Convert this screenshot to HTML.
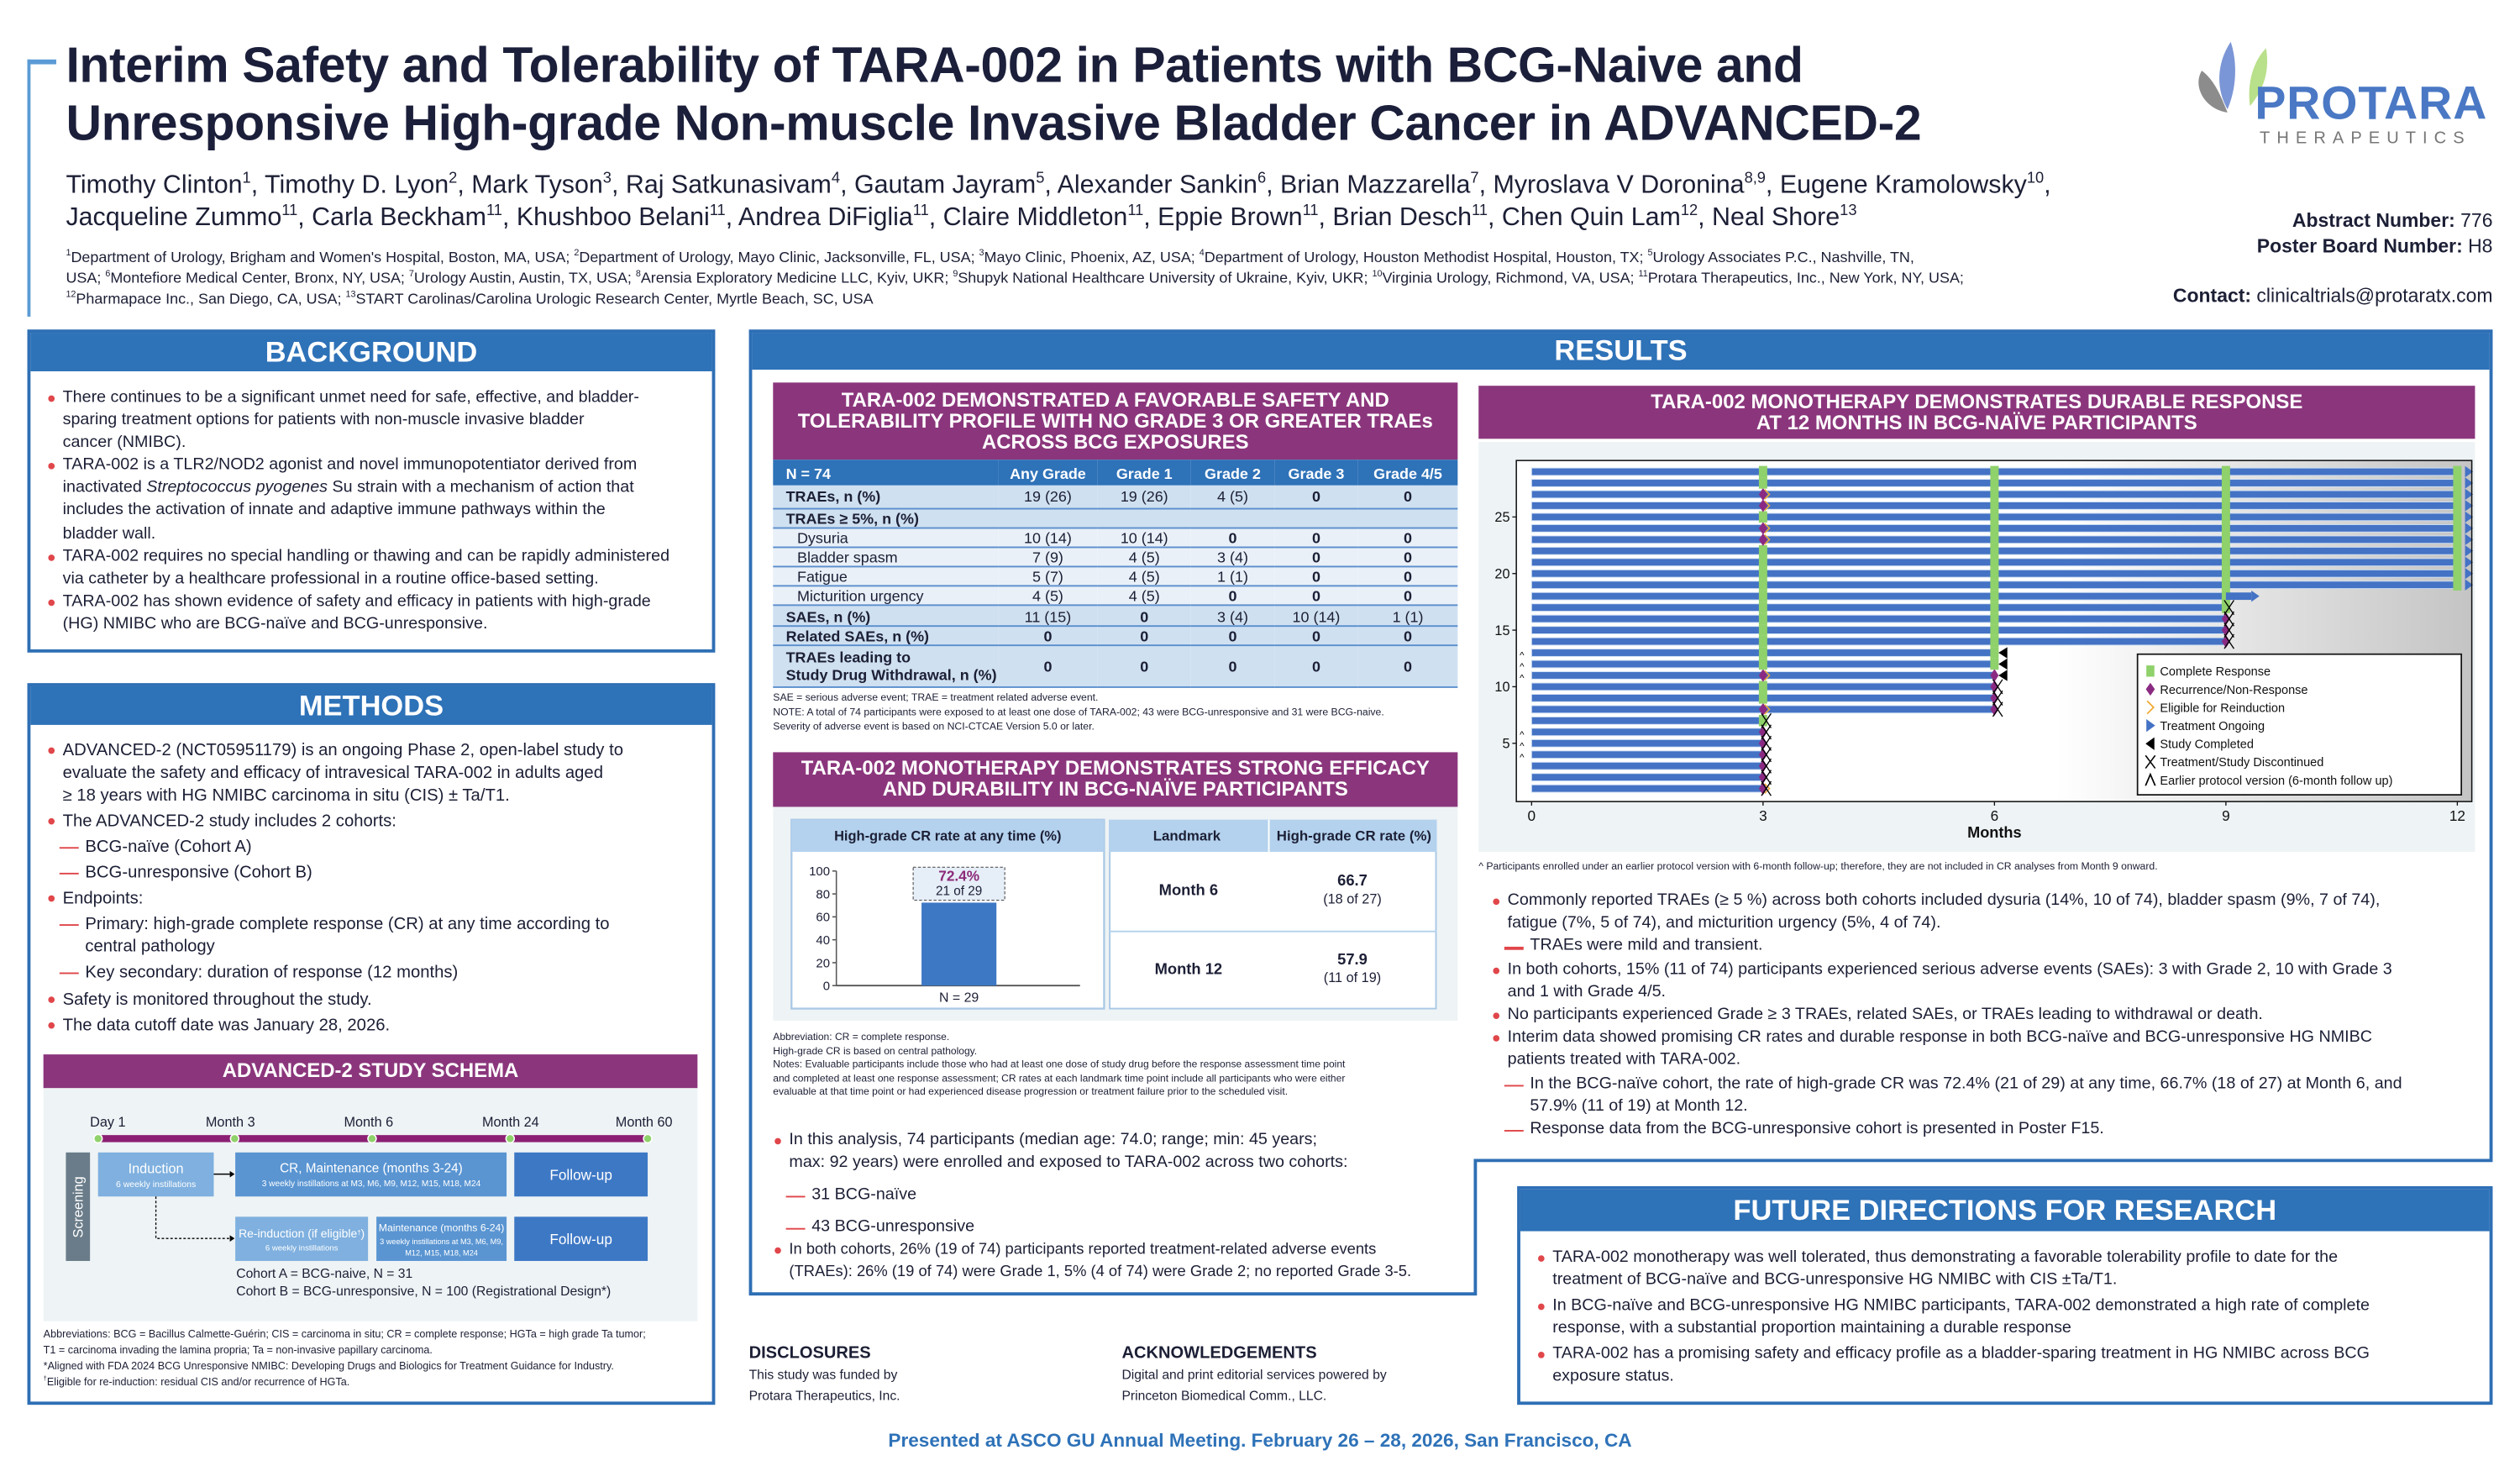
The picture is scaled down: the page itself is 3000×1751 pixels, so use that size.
<!DOCTYPE html>
<html><head><meta charset="utf-8">
<style>
html,body{margin:0;padding:0;width:3000px;height:1750px;overflow:hidden;background:#fff}
#poster{position:absolute;left:0;top:0;width:1568px;height:915px;transform:scale(1.91327);transform-origin:0 0;font-family:"Liberation Sans",sans-serif;color:#1c1f35}
.a{position:absolute;white-space:nowrap}
.panel{position:absolute;border:2px solid #2e6fb5;box-sizing:border-box;background:#fff}
.hdr{position:absolute;background:#2e72b8;color:#fff;font-weight:bold;text-align:center;font-size:18px;line-height:24px}
.ph{position:absolute;background:#8b367c;color:#fff;font-weight:bold;text-align:center;font-size:12.5px;line-height:13px;display:flex;align-items:center;justify-content:center}
.txt{position:absolute;font-size:10px;line-height:14px;white-space:nowrap}
.b{position:relative;padding-left:10px}
.b:before{content:"";position:absolute;left:1px;top:5px;width:4px;height:4px;border-radius:50%;background:#e0464a}
.d{position:relative;padding-left:24px}
.d:before{content:"";position:absolute;left:8px;top:7px;width:12px;height:1.3px;background:#e0464a}
sup{font-size:60%;line-height:0}
table{border-collapse:collapse}
td{padding:0;line-height:11px}
</style></head><body>
<div id="poster">

<!-- header -->
<div class="a" style="left:17px;top:37px;width:2px;height:160px;background:#5b9bd5"></div>
<div class="a" style="left:17px;top:37px;width:18px;height:3px;background:#5b9bd5"></div>
<div class="a" style="left:41px;top:23px;font-size:30.8px;font-weight:bold;line-height:36px;letter-spacing:-0.2px;color:#1b1f3a">Interim Safety and Tolerability of TARA-002 in Patients with BCG-Naive and<br>Unresponsive High-grade Non-muscle Invasive Bladder Cancer in ADVANCED-2</div>
<div class="a" style="left:41px;top:106px;font-size:15.9px;line-height:20px">Timothy Clinton<sup>1</sup>, Timothy D. Lyon<sup>2</sup>, Mark Tyson<sup>3</sup>, Raj Satkunasivam<sup>4</sup>, Gautam Jayram<sup>5</sup>, Alexander Sankin<sup>6</sup>, Brian Mazzarella<sup>7</sup>, Myroslava V Doronina<sup>8,9</sup>, Eugene Kramolowsky<sup>10</sup>,<br>Jacqueline Zummo<sup>11</sup>, Carla Beckham<sup>11</sup>, Khushboo Belani<sup>11</sup>, Andrea DiFiglia<sup>11</sup>, Claire Middleton<sup>11</sup>, Eppie Brown<sup>11</sup>, Brian Desch<sup>11</sup>, Chen Quin Lam<sup>12</sup>, Neal Shore<sup>13</sup></div>
<div class="a" style="left:41px;top:154px;font-size:9.4px;line-height:12.8px"><sup>1</sup>Department of Urology, Brigham and Women's Hospital, Boston, MA, USA; <sup>2</sup>Department of Urology, Mayo Clinic, Jacksonville, FL, USA; <sup>3</sup>Mayo Clinic, Phoenix, AZ, USA; <sup>4</sup>Department of Urology, Houston Methodist Hospital, Houston, TX; <sup>5</sup>Urology Associates P.C., Nashville, TN,<br>USA; <sup>6</sup>Montefiore Medical Center, Bronx, NY, USA; <sup>7</sup>Urology Austin, Austin, TX, USA; <sup>8</sup>Arensia Exploratory Medicine LLC, Kyiv, UKR; <sup>9</sup>Shupyk National Healthcare University of Ukraine, Kyiv, UKR; <sup>10</sup>Virginia Urology, Richmond, VA, USA; <sup>11</sup>Protara Therapeutics, Inc., New York, NY, USA;<br><sup>12</sup>Pharmapace Inc., San Diego, CA, USA; <sup>13</sup>START Carolinas/Carolina Urologic Research Center, Myrtle Beach, SC, USA</div>

<svg class="a" style="left:1362px;top:24px" width="60" height="50" viewBox="0 0 60 50">
<path d="M26 2 C18 14 16 30 24 44 C30 30 30 14 26 2Z" fill="#7b96d6"/>
<path d="M48 6 C40 14 36 28 38 42 C48 30 50 18 48 6Z" fill="#b9e08a"/>
<path d="M8 20 C2 30 10 44 24 46 C20 36 16 26 8 20Z" fill="#8c8c8c"/>
</svg>
<div class="a" style="left:1403px;top:49px;font-size:29px;font-weight:bold;color:#4a78c4;letter-spacing:0.5px">PROTARA</div>
<div class="a" style="left:1406px;top:80px;font-size:10.5px;color:#777;letter-spacing:4.2px">THERAPEUTICS</div>
<div class="a" style="right:17px;top:129px;font-size:12px;line-height:16px;text-align:right"><b>Abstract Number:</b> 776<br><b>Poster Board Number:</b> H8</div>
<div class="a" style="right:17px;top:177px;font-size:12px"><b>Contact:</b> clinicaltrials@protaratx.com</div>

<!-- BACKGROUND -->
<div class="panel" style="left:17px;top:205px;width:428px;height:201px"></div>
<div class="hdr" style="left:19px;top:207px;width:424px">BACKGROUND</div>
<div class="txt" style="left:29px;top:241px;font-size:10.3px;line-height:14.1px">
<div class="b">There continues to be a significant unmet need for safe, effective, and bladder-<br>sparing treatment options for patients with non-muscle invasive bladder<br>cancer (NMIBC).</div>
<div class="b">TARA-002 is a TLR2/NOD2 agonist and novel immunopotentiator derived from<br>inactivated <i>Streptococcus pyogenes</i> Su strain with a mechanism of action that<br>includes the activation of innate and adaptive immune pathways within the<br>bladder wall.</div>
<div class="b">TARA-002 requires no special handling or thawing and can be rapidly administered<br>via catheter by a healthcare professional in a routine office-based setting.</div>
<div class="b">TARA-002 has shown evidence of safety and efficacy in patients with high-grade<br>(HG) NMIBC who are BCG-naïve and BCG-unresponsive.</div>
</div>

<!-- METHODS -->
<div class="panel" style="left:17px;top:425px;width:428px;height:449px"></div>
<div class="hdr" style="left:19px;top:427px;width:424px">METHODS</div>
<div class="txt" style="left:29px;top:460px;font-size:10.6px;line-height:14px">
<div class="b">ADVANCED-2 (NCT05951179) is an ongoing Phase 2, open-label study to<br>evaluate the safety and efficacy of intravesical TARA-002 in adults aged<br>≥ 18 years with HG NMIBC carcinoma in situ (CIS) ± Ta/T1.</div>
<div class="b" style="margin-top:2px">The ADVANCED-2 study includes 2 cohorts:</div>
<div class="d" style="margin-top:2px">BCG-naïve (Cohort A)</div>
<div class="d" style="margin-top:2px">BCG-unresponsive (Cohort B)</div>
<div class="b" style="margin-top:2px">Endpoints:</div>
<div class="d" style="margin-top:2px">Primary: high-grade complete response (CR) at any time according to<br>central pathology</div>
<div class="d" style="margin-top:2px">Key secondary: duration of response (12 months)</div>
<div class="b" style="margin-top:3px">Safety is monitored throughout the study.</div>
<div class="b" style="margin-top:2px">The data cutoff date was January 28, 2026.</div>
</div>

<!-- schema -->
<div class="ph" style="left:27px;top:656px;width:407px;height:21px;font-size:12.5px">ADVANCED-2 STUDY SCHEMA</div>
<div class="a" style="left:27px;top:677px;width:407px;height:145px;background:#eef3f5"></div>
<svg class="a" style="left:0;top:0;overflow:visible" width="445" height="830">
<g font-family="Liberation Sans" font-size="8.5" fill="#1c1f35">
<text x="56" y="701">Day 1</text><text x="128" y="701">Month 3</text><text x="214" y="701">Month 6</text><text x="300" y="701">Month 24</text><text x="383" y="701">Month 60</text>
</g>
<rect x="61" y="706.2" width="342" height="4.4" fill="#8b1f73"/>
<g fill="#8fd16a" stroke="#fff" stroke-width="0.8"><circle cx="61" cy="708.4" r="2.6"/><circle cx="146" cy="708.4" r="2.6"/><circle cx="231.5" cy="708.4" r="2.6"/><circle cx="317.4" cy="708.4" r="2.6"/><circle cx="403" cy="708.4" r="2.6"/></g>
<rect x="41" y="717" width="15" height="67.5" fill="#6a7c89"/>
<text x="51.5" y="751" transform="rotate(-90 51.5 751)" text-anchor="middle" font-family="Liberation Sans" font-size="8.5" fill="#fff">Screening</text>
<rect x="61" y="717" width="72" height="27.4" fill="#7fb0df"/>
<text x="97" y="730" text-anchor="middle" font-size="8.5" fill="#fff" font-family="Liberation Sans">Induction</text>
<text x="97" y="738.5" text-anchor="middle" font-size="5.5" fill="#fff" font-family="Liberation Sans">6 weekly instillations</text>
<rect x="146.4" y="717" width="168.8" height="27.4" fill="#5a95d2"/>
<text x="231" y="729.5" text-anchor="middle" font-size="8" fill="#fff" font-family="Liberation Sans">CR, Maintenance (months 3-24)</text>
<text x="231" y="738" text-anchor="middle" font-size="5.3" fill="#fff" font-family="Liberation Sans">3 weekly instillations at M3, M6, M9, M12, M15, M18, M24</text>
<rect x="320" y="717" width="83" height="27.4" fill="#3d78c5"/>
<text x="361.5" y="734" text-anchor="middle" font-size="9" fill="#fff" font-family="Liberation Sans">Follow-up</text>
<line x1="133" y1="730.5" x2="143" y2="730.5" stroke="#000" stroke-width="0.8"/><path d="M143 728.5 L146 730.5 L143 732.5Z" fill="#000"/>
<path d="M97 744.4 V770.5 H143" fill="none" stroke="#000" stroke-width="0.7" stroke-dasharray="1.5 1.2"/><path d="M143 768.5 L146 770.5 L143 772.5Z" fill="#000"/>
<rect x="146.4" y="757" width="82.6" height="27.5" fill="#7fb0df"/>
<text x="187.7" y="770" text-anchor="middle" font-size="7.3" fill="#fff" font-family="Liberation Sans">Re-induction (if eligible<tspan font-size="4" dy="-2">†</tspan><tspan dy="2">)</tspan></text>
<text x="187.7" y="778" text-anchor="middle" font-size="5" fill="#fff" font-family="Liberation Sans">6 weekly instillations</text>
<rect x="234.2" y="757" width="81" height="27.5" fill="#5a95d2"/>
<text x="274.7" y="766" text-anchor="middle" font-size="6.4" fill="#fff" font-family="Liberation Sans">Maintenance (months 6-24)</text>
<text x="274.7" y="774" text-anchor="middle" font-size="4.8" fill="#fff" font-family="Liberation Sans">3 weekly instillations at M3, M6, M9,</text>
<text x="274.7" y="781" text-anchor="middle" font-size="4.8" fill="#fff" font-family="Liberation Sans">M12, M15, M18, M24</text>
<rect x="320" y="757" width="83" height="27.5" fill="#3d78c5"/>
<text x="361.5" y="774" text-anchor="middle" font-size="9" fill="#fff" font-family="Liberation Sans">Follow-up</text>
<text x="147" y="795" font-size="8.2" font-family="Liberation Sans" fill="#1c1f35">Cohort A = BCG-naive, N = 31</text>
<text x="147" y="806" font-size="8.2" font-family="Liberation Sans" fill="#1c1f35">Cohort B = BCG-unresponsive, N = 100 (Registrational Design*)</text>
</svg>
<div class="a" style="left:27px;top:826px;font-size:6.6px;line-height:9.9px">Abbreviations: BCG = Bacillus Calmette-Guérin; CIS = carcinoma in situ; CR = complete response; HGTa = high grade Ta tumor;<br>T1 = carcinoma invading the lamina propria; Ta = non-invasive papillary carcinoma.<br>*Aligned with FDA 2024 BCG Unresponsive NMIBC: Developing Drugs and Biologics for Treatment Guidance for Industry.<br><sup>†</sup>Eligible for re-induction: residual CIS and/or recurrence of HGTa.</div>

<!-- RESULTS frame -->
<svg class="a" style="left:0;top:0" width="1568" height="915">
<path d="M467 206 H1550 V722 H918 V805 H467 Z" fill="none" stroke="#2e6fb5" stroke-width="2"/>
</svg>
<div class="hdr" style="left:468px;top:207px;width:1081px;height:23px;line-height:23px">RESULTS</div>

<!-- Safety table -->
<div class="ph" style="left:481px;top:238px;width:426px;height:48px">TARA-002 DEMONSTRATED A FAVORABLE SAFETY AND<br>TOLERABILITY PROFILE WITH NO GRADE 3 OR GREATER TRAEs<br>ACROSS BCG EXPOSURES</div>
<div class="a" style="left:481px;top:286px;width:426px">
<table style="width:426px;font-size:9.4px;color:#1c1f35">
<colgroup><col style="width:140px"><col style="width:62px"><col style="width:58px"><col style="width:52px"><col style="width:52px"><col style="width:62px"></colgroup>
<tr style="background:#2e72b8;color:#fff;font-weight:bold;height:16px;text-align:center"><td style="text-align:left;padding-left:8px">N = 74</td><td>Any Grade</td><td>Grade 1</td><td>Grade 2</td><td>Grade 3</td><td>Grade 4/5</td></tr>
<tr style="background:#cfe0f1;height:14px;border-bottom:1px solid #5a8fcc;text-align:center"><td style="text-align:left;padding-left:8px;font-weight:bold">TRAEs, n (%)</td><td>19 (26)</td><td>19 (26)</td><td>4 (5)</td><td><b>0</b></td><td><b>0</b></td></tr>
<tr style="background:#cfe0f1;height:12px;border-bottom:1px solid #5a8fcc"><td colspan="6" style="padding-left:8px;font-weight:bold">TRAEs ≥ 5%, n (%)</td></tr>
<tr style="background:#e9f0f8;height:12.6px;border-bottom:1px solid #5a8fcc;text-align:center"><td style="text-align:left;padding-left:15px">Dysuria</td><td>10 (14)</td><td>10 (14)</td><td><b>0</b></td><td><b>0</b></td><td><b>0</b></td></tr>
<tr style="background:#e9f0f8;height:12.2px;border-bottom:1px solid #5a8fcc;text-align:center"><td style="text-align:left;padding-left:15px">Bladder spasm</td><td>7 (9)</td><td>4 (5)</td><td>3 (4)</td><td><b>0</b></td><td><b>0</b></td></tr>
<tr style="background:#e9f0f8;height:12.2px;border-bottom:1px solid #5a8fcc;text-align:center"><td style="text-align:left;padding-left:15px">Fatigue</td><td>5 (7)</td><td>4 (5)</td><td>1 (1)</td><td><b>0</b></td><td><b>0</b></td></tr>
<tr style="background:#e9f0f8;height:11.8px;border-bottom:1px solid #5a8fcc;text-align:center"><td style="text-align:left;padding-left:15px">Micturition urgency</td><td>4 (5)</td><td>4 (5)</td><td><b>0</b></td><td><b>0</b></td><td><b>0</b></td></tr>
<tr style="background:#cfe0f1;height:12.6px;border-bottom:1px solid #5a8fcc;text-align:center"><td style="text-align:left;padding-left:8px;font-weight:bold">SAEs, n (%)</td><td>11 (15)</td><td><b>0</b></td><td>3 (4)</td><td>10 (14)</td><td>1 (1)</td></tr>
<tr style="background:#cfe0f1;height:11.9px;border-bottom:1px solid #5a8fcc;text-align:center;font-weight:bold"><td style="text-align:left;padding-left:8px">Related SAEs, n (%)</td><td>0</td><td>0</td><td>0</td><td>0</td><td>0</td></tr>
<tr style="background:#cfe0f1;height:25.6px;border-bottom:1px solid #5a8fcc;text-align:center;font-weight:bold"><td style="text-align:left;padding-left:8px;line-height:11px">TRAEs leading to<br>Study Drug Withdrawal, n (%)</td><td>0</td><td>0</td><td>0</td><td>0</td><td>0</td></tr>
</table></div>
<div class="a" style="left:481px;top:430px;font-size:6.4px;line-height:9px">SAE = serious adverse event; TRAE = treatment related adverse event.<br>NOTE: A total of 74 participants were exposed to at least one dose of TARA-002; 43 were BCG-unresponsive and 31 were BCG-naive.<br>Severity of adverse event is based on NCI-CTCAE Version 5.0 or later.</div>

<!-- Efficacy -->
<div class="ph" style="left:481px;top:468px;width:426px;height:34px">TARA-002 MONOTHERAPY DEMONSTRATES STRONG EFFICACY<br>AND DURABILITY IN BCG-NAÏVE PARTICIPANTS</div>
<div class="a" style="left:481px;top:502px;width:426px;height:133px;background:#eef3f5"></div>
<svg class="a" id="barsvg" style="left:0;top:0" width="1568" height="915"></svg>
<div class="a" style="left:690px;top:510px;width:204px;height:118px;background:#fff;border:1.2px solid #a9c9e6;box-sizing:border-box"></div>
<div class="a" style="left:690px;top:510px;width:204px;height:20px;background:#b4d2ee;font-size:8.8px;font-weight:bold;line-height:20px"><span style="position:absolute;left:0;width:97px;text-align:center">Landmark</span><span style="position:absolute;left:99px;width:105px;text-align:center;border-left:1.2px solid #fff;height:20px">High-grade CR rate (%)</span></div>
<div class="a" style="left:690px;top:578.5px;width:204px;height:1.2px;background:#b4d2ee"></div>
<div class="a" style="left:690px;top:549px;width:99px;text-align:center;font-size:9.6px;font-weight:bold">Month 6</div>
<div class="a" style="left:789px;top:544px;width:105px;text-align:center;font-size:9.6px;line-height:10px"><b>66.7</b><br><span style="font-size:8.5px">(18 of 27)</span></div>
<div class="a" style="left:690px;top:598px;width:99px;text-align:center;font-size:9.6px;font-weight:bold">Month 12</div>
<div class="a" style="left:789px;top:593px;width:105px;text-align:center;font-size:9.6px;line-height:10px"><b>57.9</b><br><span style="font-size:8.5px">(11 of 19)</span></div>
<div class="a" style="left:481px;top:642px;font-size:6.3px;line-height:8.6px">Abbreviation: CR = complete response.<br>High-grade CR is based on central pathology.<br>Notes: Evaluable participants include those who had at least one dose of study drug before the response assessment time point<br>and completed at least one response assessment; CR rates at each landmark time point include all participants who were either<br>evaluable at that time point or had experienced disease progression or treatment failure prior to the scheduled visit.</div>
<div class="txt" style="left:481px;top:703px;font-size:10.3px;line-height:13.5px">
<div class="b">In this analysis, 74 participants (median age: 74.0; range; min: 45 years;<br>max: 92 years) were enrolled and exposed to TARA-002 across two cohorts:</div>
<div class="d" style="margin-top:7px">31 BCG-naïve</div>
<div class="d" style="margin-top:6px">43 BCG-unresponsive</div>
<div class="b" style="margin-top:1px;font-size:9.6px">In both cohorts, 26% (19 of 74) participants reported treatment-related adverse events<br>(TRAEs): 26% (19 of 74) were Grade 1, 5% (4 of 74) were Grade 2; no reported Grade 3-5.</div>
</div>

<!-- Swimmer plot -->
<div class="ph" style="left:920px;top:240px;width:620px;height:33px">TARA-002 MONOTHERAPY DEMONSTRATES DURABLE RESPONSE<br>AT 12 MONTHS IN BCG-NAÏVE PARTICIPANTS</div>
<div class="a" style="left:920px;top:275px;width:620px;height:255px;background:#eef3f5"></div>
<svg class="a" id="swim" style="left:920px;top:275px" width="620" height="255"></svg>
<div class="a" style="left:920px;top:536px;font-size:6.4px">^ Participants enrolled under an earlier protocol version with 6-month follow-up; therefore, they are not included in CR analyses from Month 9 onward.</div>
<div class="txt" style="left:928px;top:554px;font-size:10.3px;line-height:14.2px">
<div class="b">Commonly reported TRAEs (≥ 5 %) across both cohorts included dysuria (14%, 10 of 74), bladder spasm (9%, 7 of 74),<br>fatigue (7%, 5 of 74), and micturition urgency (5%, 4 of 74).</div>
<div class="d">TRAEs were mild and transient.</div>
<div class="b">In both cohorts, 15% (11 of 74) participants experienced serious adverse events (SAEs): 3 with Grade 2, 10 with Grade 3<br>and 1 with Grade 4/5.</div>
<div class="b">No participants experienced Grade ≥ 3 TRAEs, related SAEs, or TRAEs leading to withdrawal or death.</div>
<div class="b">Interim data showed promising CR rates and durable response in both BCG-naïve and BCG-unresponsive HG NMIBC<br>patients treated with TARA-002.</div>
<div class="d">In the BCG-naïve cohort, the rate of high-grade CR was 72.4% (21 of 29) at any time, 66.7% (18 of 27) at Month 6, and<br>57.9% (11 of 19) at Month 12.</div>
<div class="d">Response data from the BCG-unresponsive cohort is presented in Poster F15.</div>
</div>

<!-- Future directions -->
<div class="panel" style="left:944px;top:738px;width:607px;height:136px"></div>
<div class="hdr" style="left:946px;top:740px;width:603px;height:26px;line-height:26px">FUTURE DIRECTIONS FOR RESEARCH</div>
<div class="txt" style="left:956px;top:776px;font-size:10.3px;line-height:13.6px">
<div class="b">TARA-002 monotherapy was well tolerated, thus demonstrating a favorable tolerability profile to date for the<br>treatment of BCG-naïve and BCG-unresponsive HG NMIBC with CIS ±Ta/T1.</div>
<div class="b" style="margin-top:3px">In BCG-naïve and BCG-unresponsive HG NMIBC participants, TARA-002 demonstrated a high rate of complete<br>response, with a substantial proportion maintaining a durable response</div>
<div class="b" style="margin-top:3px">TARA-002 has a promising safety and efficacy profile as a bladder-sparing treatment in HG NMIBC across BCG<br>exposure status.</div>
</div>

<!-- Disclosures -->
<div class="a" style="left:466px;top:836px;font-size:8.2px;line-height:12px"><b style="font-size:10.5px">DISCLOSURES</b><br><span style="line-height:14px">This study was funded by</span><br>Protara Therapeutics, Inc.</div>
<div class="a" style="left:698px;top:836px;font-size:8.2px;line-height:12px"><b style="font-size:10.5px">ACKNOWLEDGEMENTS</b><br><span style="line-height:14px">Digital and print editorial services powered by</span><br>Princeton Biomedical Comm., LLC.</div>
<div class="a" style="left:0;width:1568px;top:889px;text-align:center;font-size:11.8px;font-weight:bold;color:#2e72b8">Presented at ASCO GU Annual Meeting. February 26 – 28, 2026, San Francisco, CA</div>
</div>

<script>
// ===== Bar chart data =====
const barCategories = ["N = 29"];
const barValues = [72.4];
const barLabels = ["72.4%"];
const barSubLabels = ["21 of 29"];
const barTicks = [0, 20, 40, 60, 80, 100];

// ===== Swimmer data (patients 1..29, bottom to top) =====
const patientIds = [1,2,3,4,5,6,7,8,9,10,11,12,13,14,15,16,17,18,19,20,21,22,23,24,25,26,27,28,29];
const endMonth = [3,3,3,3,3,3,3,6,6,6,6,6,6,9,9,9,9,9,12,12,12,12,12,12,12,12,12,12,12];
const endMarker = ["X","X","X","X","X","X","X","X","X","X","C","C","C","X","X","X","X","O","O","O","O","O","O","O","O","O","O","O","O"];
const month3 = ["RE","R","R","R","R","R","CR","RE","CR","CR","RE","CR","CR","CR","CR","CR","CR","CR","CR","CR","CR","CR","RE","RE","CR","RE","RE","CR","CR"];
const month6 = ["","","","","","","","R","R","R","R","CR","CR","CR","CR","CR","CR","CR","CR","CR","CR","CR","CR","CR","CR","CR","CR","CR","CR"];
const month9 = ["","","","","","","","","","","","","","R","R","R","CR","CR","CR","CR","CR","CR","CR","CR","CR","CR","CR","CR","CR"];
const month12 = ["","","","","","","","","","","","","","","","","","","CR","CR","CR","CR","CR","CR","CR","CR","CR","CR","CR"];
const earlierProtocol = [0,0,0,1,1,1,0,0,0,0,1,1,1,0,0,0,0,0,0,0,0,0,0,0,0,0,0,0,0];
const assessMonths = [3, 6, 9, 12];
const xTicks = [0, 3, 6, 9, 12];
const yTicks = [5, 10, 15, 20, 25];
const legendLabels = ["Complete Response","Recurrence/Non-Response","Eligible for Reinduction","Treatment Ongoing","Study Completed","Treatment/Study Discontinued","Earlier protocol version (6-month follow up)"];

const NS = "http://www.w3.org/2000/svg";
function mk(parent, tag, attrs, text) {
  const e = document.createElementNS(NS, tag);
  for (const k in attrs) e.setAttribute(k, attrs[k]);
  if (text !== undefined) e.textContent = text;
  parent.appendChild(e);
  return e;
}

// ---- bar chart ----
(function(){
  const svg = document.getElementById('barsvg');
  const box = mk(svg,'rect',{x:492.5,y:510,width:194.5,height:117.5,fill:'#fff',stroke:'#a9c9e6','stroke-width':1.2});
  
  
  const hd = mk(svg,'rect',{x:492.5,y:510,width:194.5,height:20,fill:'#b4d2ee'});
  
  
  const ht = mk(svg,'text',{x:589.7,y:523,'text-anchor':'middle','font-size':8.6,'font-weight':'bold','font-family':'Liberation Sans',fill:'#1c1f35'},'High-grade CR rate at any time (%)');
  
  
  const y0 = 613.2, y100 = 541.9, axX = 520.4, axEnd = 672;
  const yS = v => y0 - (v/100)*(y0-y100);
  const ax = mk(svg,'line',{x1:axX,y1:y100,x2:axX,y2:y0,stroke:'#555','stroke-width':0.8});
  
  
  const bx = mk(svg,'line',{x1:axX,y1:y0,x2:axEnd,y2:y0,stroke:'#555','stroke-width':1});
  
  
  barTicks.forEach(t=>{
    const tl = mk(svg,'line',{x1:axX-2.5,y1:yS(t),x2:axX,y2:yS(t),stroke:'#555','stroke-width':0.8});
    
    
    const tt = mk(svg,'text',{x:axX-4,y:yS(t)+2.8,'text-anchor':'end','font-size':7.8,'font-family':'Liberation Sans',fill:'#1c1f35'},String(t));
    
    
  });
  const bw = 46.6, cx0 = 596.7;
  barValues.forEach((v,i)=>{
    const cx = cx0 + i*60;
    const r = mk(svg,'rect',{x:cx-bw/2,y:yS(v),width:bw,height:y0-yS(v),fill:'#3d78c5'});
    
    
    const lb = mk(svg,'rect',{x:cx-28.5,y:yS(v)-22,width:57,height:20.5,fill:'#e6eef8',stroke:'#555','stroke-width':0.6,'stroke-dasharray':'1.8 1.2'});
    
    
    const t1 = mk(svg,'text',{x:cx,y:yS(v)-13.5,'text-anchor':'middle','font-size':9,'font-weight':'bold','font-family':'Liberation Sans',fill:'#8b2a78'},barLabels[i]);
    
    
    const t2 = mk(svg,'text',{x:cx,y:yS(v)-4.8,'text-anchor':'middle','font-size':8,'font-family':'Liberation Sans',fill:'#1c1f35'},barSubLabels[i]);
    
    
    const c = mk(svg,'text',{x:cx,y:y0+10,'text-anchor':'middle','font-size':8.3,'font-family':'Liberation Sans',fill:'#1c1f35'},barCategories[i]);
    
    
  });
})();

// ---- swimmer plot ----
(function(){
  const svg = document.getElementById('swim');
  const L = 23.5, R = 618, T = 11.5, B = 223.7;
  const xS = m => 33 + m*48;
  const yS = v => 215.6 - (v-1)*7.04;
  const defs = mk(svg,'defs',{});
  const lg = mk(defs,'linearGradient',{id:'gg',x1:0,y1:0,x2:1,y2:0});
  mk(lg,'stop',{offset:0,'stop-color':'#fff'});
  mk(lg,'stop',{offset:1,'stop-color':'#c4c4c4'});
  const bg = mk(svg,'rect',{x:L,y:T,width:R-L,height:B-T,fill:'#fff'});
  
  
  const gr = mk(svg,'rect',{x:xS(6.8),y:T,width:R-xS(6.8),height:B-T,fill:'url(#gg)'});
  
  
  patientIds.forEach((p,i)=>{
    const y = yS(p);
    const r = mk(svg,'rect',{x:xS(0),y:y-2.3,width:xS(endMonth[i])-xS(0),height:4.6,fill:'#4472c4',stroke:'#cfe0f5','stroke-width':0.5});
    
    
  });
  const sets = [month3, month6, month9, month12];
  sets.forEach((arr,k)=>{
    const m = assessMonths[k];
    arr.forEach((s,i)=>{
      const y = yS(patientIds[i]), x = xS(m);
      if (s === 'CR') {
        const g = mk(svg,'rect',{x:x-2.6,y:y-3.6,width:5.2,height:7.1,fill:'#8fd16a'});
        
        
      } else if (s === 'R' || s === 'RE') {
        if (s === 'RE') {
          const e = mk(svg,'path',{d:`M${x+1} ${y-3} L${x+4} ${y} L${x+1} ${y+3}`,fill:'none',stroke:'#f0a830','stroke-width':0.8});
          
          
        }
        const d = mk(svg,'path',{d:`M${x} ${y-4} L${x+2.6} ${y} L${x} ${y+4} L${x-2.6} ${y}Z`,fill:'#8b2a82'});
        
        
      }
    });
  });
  patientIds.forEach((p,i)=>{
    const y = yS(p), x = xS(endMonth[i]);
    if (endMarker[i] === 'X') {
      const e = mk(svg,'path',{d:`M${x-1} ${y-4.5} L${x+5} ${y+4.5} M${x+5} ${y-4.5} L${x-1} ${y+4.5}`,stroke:'#000','stroke-width':0.7,fill:'none'});
      
      
    } else if (endMarker[i] === 'C') {
      const e = mk(svg,'path',{d:`M${x+8} ${y-3.5} L${x+2.5} ${y} L${x+8} ${y+3.5}Z`,fill:'#000'});
      
      
    } else {
      const ext = endMonth[i] < 12 ? 0.33 : 0.1;
      if (endMonth[i] < 12) {
        const ex = mk(svg,'rect',{x:x,y:y-2.3,width:ext*48,height:4.6,fill:'#4472c4'});
        
        
      }
      const xe = xS(endMonth[i]+ext);
      const e = mk(svg,'path',{d:`M${xe} ${y-3.5} L${xe+5} ${y} L${xe} ${y+3.5}Z`,fill:'#4472c4'});
      
      
    }
    if (earlierProtocol[i]) {
      const c = mk(svg,'text',{x:L+3.5,y:y+3.5,'text-anchor':'middle','font-size':6,'font-family':'Liberation Sans',fill:'#000'},'^');
      
      
    }
  });
  const fr = mk(svg,'rect',{x:L,y:T,width:R-L,height:B-T,fill:'none',stroke:'#111','stroke-width':0.8});
  
  
  xTicks.forEach(t=>{
    const tl = mk(svg,'line',{x1:xS(t),y1:B,x2:xS(t),y2:B+2.5,stroke:'#111','stroke-width':0.7});
    
    
    const tx = mk(svg,'text',{x:xS(t),y:B+12,'text-anchor':'middle','font-size':9,'font-family':'Liberation Sans',fill:'#111'},String(t));
    
    
  });
  const xt = mk(svg,'text',{x:xS(6),y:B+22.5,'text-anchor':'middle','font-size':9.5,'font-weight':'bold','font-family':'Liberation Sans',fill:'#111'},'Months');
  
  
  yTicks.forEach(t=>{
    const tl = mk(svg,'line',{x1:L-2.5,y1:yS(t),x2:L,y2:yS(t),stroke:'#111','stroke-width':0.7});
    
    
    const tx = mk(svg,'text',{x:L-4,y:yS(t)+3,'text-anchor':'end','font-size':8.5,'font-family':'Liberation Sans',fill:'#111'},String(t));
    
    
  });
  const lx = 410, ly = 132, lw = 201.5, lh = 87.5;
  const lb = mk(svg,'rect',{x:lx,y:ly,width:lw,height:lh,fill:'#fff',stroke:'#111','stroke-width':0.9});
  
  
  legendLabels.forEach((lab,i)=>{
    const y = ly + 10.5 + i*11.3, x = lx + 8;
    let s;
    if (i===0) s = mk(svg,'rect',{x:x-2.5,y:y-3.5,width:5,height:7,fill:'#8fd16a'});
    else if (i===1) s = mk(svg,'path',{d:`M${x} ${y-4} L${x+2.8} ${y} L${x} ${y+4} L${x-2.8} ${y}Z`,fill:'#8b2a82'});
    else if (i===2) s = mk(svg,'path',{d:`M${x-2} ${y-4} L${x+2} ${y} L${x-2} ${y+4}`,fill:'none',stroke:'#f0a830','stroke-width':0.9});
    else if (i===3) s = mk(svg,'path',{d:`M${x-2.5} ${y-4} L${x+3} ${y} L${x-2.5} ${y+4}Z`,fill:'#4472c4'});
    else if (i===4) s = mk(svg,'path',{d:`M${x+2.5} ${y-4} L${x-3} ${y} L${x+2.5} ${y+4}Z`,fill:'#000'});
    else if (i===5) s = mk(svg,'path',{d:`M${x-3} ${y-4} L${x+3} ${y+4} M${x+3} ${y-4} L${x-3} ${y+4}`,stroke:'#000','stroke-width':0.8});
    else s = mk(svg,'path',{d:`M${x-3} ${y+3.5} L${x} ${y-3.5} L${x+3} ${y+3.5}`,fill:'none',stroke:'#000','stroke-width':0.9});
    
    
    const t = mk(svg,'text',{x:x+6,y:y+2.8,'font-size':7.6,'font-family':'Liberation Sans',fill:'#111'},lab);
    
    
  });
})();
</script>
</body></html>
